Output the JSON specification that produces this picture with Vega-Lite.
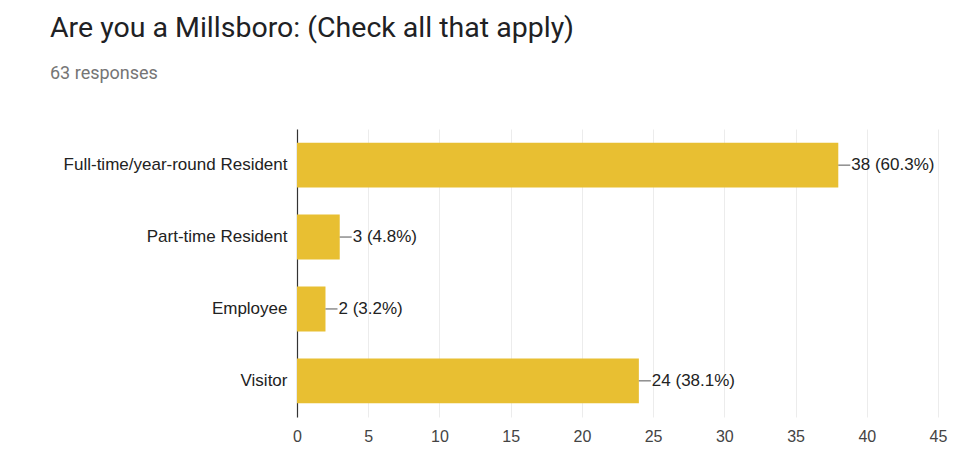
{
  "$schema": "https://vega.github.io/schema/vega-lite/v6.json",
  "autosize": "none",
  "width": 641,
  "height": 288,
  "padding": {"left": 297, "top": 129, "right": 36, "bottom": 55},
  "background": "white",
  "title": {
    "text": "Are you a Millsboro: (Check all that apply)",
    "subtitle": "63 responses",
    "anchor": "start",
    "frame": "group",
    "dx": -247,
    "offset": 46,
    "font": "Roboto",
    "fontSize": 28.5,
    "fontWeight": "normal",
    "color": "#202124",
    "subtitleFont": "Roboto",
    "subtitleFontSize": 18,
    "subtitleColor": "#757575",
    "subtitlePadding": 23
  },
  "data": {
    "values": [
      {"category": "Full-time/year-round Resident", "count": 38, "label": "38 (60.3%)"},
      {"category": "Part-time Resident", "count": 3, "label": "3 (4.8%)"},
      {"category": "Employee", "count": 2, "label": "2 (3.2%)"},
      {"category": "Visitor", "count": 24, "label": "24 (38.1%)"}
    ]
  },
  "encoding": {
    "y": {
      "field": "category",
      "type": "nominal",
      "sort": null,
      "scale": {"paddingInner": 0.375, "paddingOuter": 0.19},
      "axis": {
        "title": null,
        "ticks": false,
        "domainColor": "#333333",
        "domainWidth": 1.2,
        "labelFont": "Liberation Sans",
        "labelFontSize": 17,
        "labelLimit": 400,
        "labelColor": "#222222",
        "labelPadding": 10,
        "grid": false
      }
    }
  },
  "layer": [
    {
      "mark": {"type": "bar", "color": "#e8bf32"},
      "encoding": {
        "x": {
          "field": "count",
          "type": "quantitative",
          "scale": {"domain": [0, 45], "nice": false},
          "axis": {
            "title": null,
            "values": [0, 5, 10, 15, 20, 25, 30, 35, 40, 45],
            "domain": false,
            "ticks": false,
            "grid": true,
            "gridColor": "#ececec",
            "labelFlush": false,
            "labelFont": "Liberation Sans",
            "labelFontSize": 16,
            "labelColor": "#444444",
            "labelPadding": 11
          }
        }
      }
    },
    {
      "mark": {"type": "rule", "color": "#555555", "x2Offset": 12},
      "encoding": {
        "x": {"field": "count", "type": "quantitative"},
        "x2": {"field": "count"}
      }
    },
    {
      "mark": {"type": "text", "align": "left", "baseline": "middle", "dx": 13, "font": "Liberation Sans", "fontSize": 17, "color": "#222222"},
      "encoding": {
        "x": {"field": "count", "type": "quantitative"},
        "text": {"field": "label"}
      }
    }
  ],
  "config": {"view": {"stroke": null}}
}
